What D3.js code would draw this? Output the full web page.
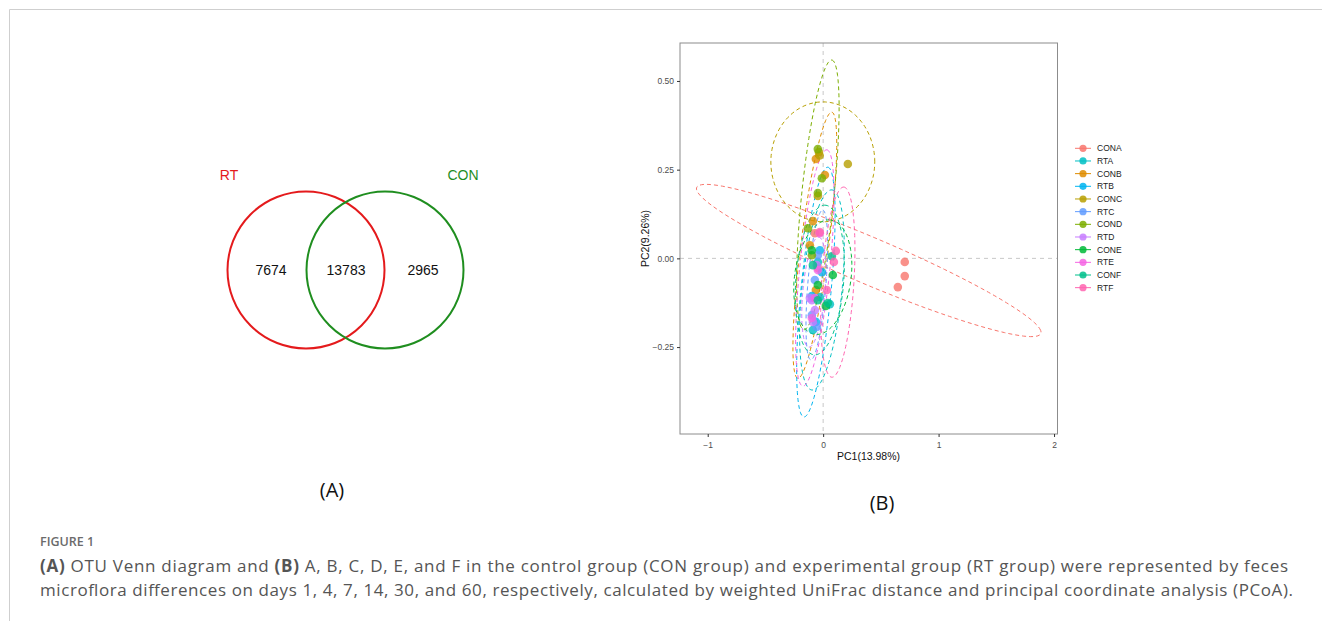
<!DOCTYPE html>
<html>
<head>
<meta charset="utf-8">
<script src="https://cdn.jsdelivr.net/npm/d3@7"></script>
<style>
  body { margin: 0; background: #fff; }
  svg { display: block; }
</style>
</head>
<body>
<svg id="fig" width="1322" height="621"></svg>
<script>
// Venn data
const vennSets = ["RT", "CON"];
const vennCounts = [7674, 13783, 2965];

// PCoA data
const groups = ["CONA", "RTA", "CONB", "RTB", "CONC", "RTC", "COND", "RTD", "CONE", "RTE", "CONF", "RTF"];
const groupColors = {
  CONA: "#F8766D", CONB: "#DE8C00", CONC: "#B79F00", COND: "#7CAE00", CONE: "#00BA38", CONF: "#00C08B",
  RTA: "#00BFC4", RTB: "#00B4F0", RTC: "#619CFF", RTD: "#C77CFF", RTE: "#F564E3", RTF: "#FF64B0"
};
const xTicks = [-1, 0, 1, 2];
const yTicks = [-0.25, 0, 0.25, 0.5];

// sample scores [PC1, PC2]
const pointsCONA = [[0.707, -0.010], [0.707, -0.050], [0.647, -0.081], [-0.072, 0.071], [-0.046, -0.027]];
const pointsCONB = [[0.015, 0.235], [-0.063, 0.280], [-0.089, 0.105], [-0.115, 0.037], [-0.063, -0.089]];
const pointsCONC = [[-0.037, 0.300], [0.214, 0.266], [-0.046, 0.176], [-0.030, 0.290]];
const pointsCOND = [[-0.046, 0.308], [-0.011, 0.226], [-0.046, 0.184], [-0.132, 0.085], [-0.098, 0.009]];
const pointsCONE = [[0.084, -0.047], [0.023, -0.134], [-0.098, 0.023], [-0.046, -0.075]];
const pointsCONF = [[0.075, 0.006], [0.041, -0.126], [-0.089, -0.019], [-0.046, -0.118]];
const pointsRTA = [[-0.089, -0.202], [-0.046, -0.010], [-0.029, -0.109], [0.058, -0.129]];
const pointsRTB = [[-0.029, 0.023], [-0.098, -0.106], [-0.063, -0.179], [-0.011, -0.039]];
const pointsRTC = [[-0.046, 0.009], [-0.072, -0.061], [-0.098, -0.160], [-0.055, -0.193]];
const pointsRTD = [[-0.055, -0.019], [-0.098, -0.118], [-0.072, -0.146], [-0.089, -0.179], [-0.115, -0.112]];
const pointsRTE = [[-0.029, 0.071], [-0.046, -0.033], [-0.072, -0.112], [-0.098, -0.168]];
const pointsRTF = [[0.110, 0.021], [0.093, -0.010], [0.032, -0.089], [-0.029, 0.074]];

// confidence ellipses: [cx, cy, ux, uy, vx, vy] (centre + two half-axis vectors)
const ellipseCONA = [0.395, -0.006, 1.489, -0.197, -0.104, 0.085];
const ellipseCONB = [-0.072, 0.037, 0.147, 0.375, 0.120, -0.005];
const ellipseCONC = [-0.003, 0.272, 0.450, 0.000, 0.000, 0.169];
const ellipseCOND = [-0.046, 0.179, 0.121, 0.380, 0.139, -0.005];
const ellipseCONE = [-0.003, -0.053, 0.069, 0.161, 0.242, -0.011];
const ellipseCONF = [-0.029, -0.061, 0.043, 0.211, 0.208, 0.000];
const ellipseRTA = [-0.011, -0.089, 0.087, 0.282, 0.173, -0.006];
const ellipseRTB = [-0.063, -0.095, 0.104, 0.352, 0.130, -0.004];
const ellipseRTC = [-0.055, -0.075, 0.052, 0.211, 0.078, -0.003];
const ellipseRTD = [-0.081, -0.095, 0.043, 0.155, 0.095, -0.003];
const ellipseRTE = [-0.072, -0.027, 0.104, 0.333, 0.130, -0.004];
const ellipseRTF = [0.127, -0.067, 0.052, 0.268, 0.139, -0.003];

const pointsByGroup = {
  CONA: pointsCONA, CONB: pointsCONB, CONC: pointsCONC, COND: pointsCOND, CONE: pointsCONE, CONF: pointsCONF,
  RTA: pointsRTA, RTB: pointsRTB, RTC: pointsRTC, RTD: pointsRTD, RTE: pointsRTE, RTF: pointsRTF
};
const ellipseByGroup = {
  CONA: ellipseCONA, CONB: ellipseCONB, CONC: ellipseCONC, COND: ellipseCOND, CONE: ellipseCONE, CONF: ellipseCONF,
  RTA: ellipseRTA, RTB: ellipseRTB, RTC: ellipseRTC, RTD: ellipseRTD, RTE: ellipseRTE, RTF: ellipseRTF
};

const svg = d3.select("#fig");
const font = "'Liberation Sans', Arial, sans-serif";

// page frame
svg.append("path")
  .attr("d", "M9.5,621 V9.5 H1322")
  .attr("fill", "none")
  .attr("stroke", "#cfcfcf")
  .attr("stroke-width", 1);

// ---------- (A) Venn ----------
const venn = svg.append("g");
const vennR = 78.5;
const vennCx = [306, 385];
const vennCy = 270;
const vennColors = ["#E41A1C", "#1F8E1F"];

venn.selectAll("circle")
  .data(vennSets)
  .join("circle")
  .attr("cx", (d, i) => vennCx[i])
  .attr("cy", vennCy)
  .attr("r", vennR)
  .attr("fill", "none")
  .attr("stroke", (d, i) => vennColors[i])
  .attr("stroke-width", 2);

venn.selectAll("text.set")
  .data(vennSets)
  .join("text")
  .attr("class", "set")
  .attr("x", (d, i) => i === 0 ? 229 : 463)
  .attr("y", 180)
  .attr("text-anchor", "middle")
  .attr("fill", (d, i) => vennColors[i])
  .style("font", `14px ${font}`)
  .text(d => d);

const countX = [271, 346, 423];
venn.selectAll("text.count")
  .data(vennCounts)
  .join("text")
  .attr("class", "count")
  .attr("x", (d, i) => countX[i])
  .attr("y", 275)
  .attr("text-anchor", "middle")
  .attr("fill", "#111")
  .style("font", `14px ${font}`)
  .text(d => d);

svg.append("text")
  .attr("x", 332).attr("y", 497)
  .attr("text-anchor", "middle")
  .style("font", "20px 'Open Sans', sans-serif")
  .attr("fill", "#111")
  .text("(A)");

// ---------- (B) PCoA ----------
const x = d3.scaleLinear().domain([-1.24, 2.03]).range([680, 1057.5]);
const y = d3.scaleLinear().domain([-0.495, 0.607]).range([434, 43]);

const plot = svg.append("g");

plot.append("rect")
  .attr("x", 680).attr("y", 43)
  .attr("width", 377.5).attr("height", 391)
  .attr("fill", "#fff");

// zero reference lines
plot.append("line")
  .attr("x1", x(0)).attr("x2", x(0))
  .attr("y1", 43).attr("y2", 434)
  .attr("stroke", "#c8c8c8").attr("stroke-dasharray", "4,4");
plot.append("line")
  .attr("x1", 680).attr("x2", 1057.5)
  .attr("y1", y(0)).attr("y2", y(0))
  .attr("stroke", "#c8c8c8").attr("stroke-dasharray", "4,4");

// ellipses
const ellipseLine = d3.line().x(d => x(d[0])).y(d => y(d[1]));
const angles = d3.range(0, 2 * Math.PI + 0.001, Math.PI / 60);
const ellipsePath = e => ellipseLine(angles.map(t => [
  e[0] + Math.cos(t) * e[2] + Math.sin(t) * e[4],
  e[1] + Math.cos(t) * e[3] + Math.sin(t) * e[5]
]));

plot.selectAll("path.ellipse")
  .data(groups)
  .join("path")
  .attr("class", "ellipse")
  .attr("d", g => ellipsePath(ellipseByGroup[g]))
  .attr("fill", "none")
  .attr("stroke", g => groupColors[g])
  .attr("stroke-width", 1)
  .attr("stroke-dasharray", "4,3");

// points
const allPoints = groups.flatMap(g => pointsByGroup[g].map(p => ({ g, p })));
plot.selectAll("circle.pt")
  .data(allPoints)
  .join("circle")
  .attr("class", "pt")
  .attr("cx", d => x(d.p[0]))
  .attr("cy", d => y(d.p[1]))
  .attr("r", 4.3)
  .attr("fill", d => groupColors[d.g])
  .attr("fill-opacity", 0.8);

// border
plot.append("rect")
  .attr("x", 680).attr("y", 43)
  .attr("width", 377.5).attr("height", 391)
  .attr("fill", "none")
  .attr("stroke", "#8c8c8c")
  .attr("stroke-width", 1);

// axes
const xAxis = svg.append("g")
  .attr("transform", "translate(0,434)")
  .call(d3.axisBottom(x).tickValues(xTicks).tickSize(3).tickSizeOuter(0).tickFormat(d => d < 0 ? "\u2212" + Math.abs(d) : d));
const yAxis = svg.append("g")
  .attr("transform", "translate(680,0)")
  .call(d3.axisLeft(y).tickValues(yTicks).tickSize(3).tickSizeOuter(0)
    .tickFormat(d => (d < 0 ? "\u2212" : "") + d3.format(".2f")(Math.abs(d))));
[xAxis, yAxis].forEach(a => {
  a.select(".domain").remove();
  a.selectAll(".tick line").attr("stroke", "#333");
  a.selectAll(".tick text").attr("fill", "#4d4d4d").style("font", `8.5px ${font}`);
});
xAxis.selectAll(".tick text").attr("dy", "0.9em");

svg.append("text")
  .attr("x", 868.5).attr("y", 460)
  .attr("text-anchor", "middle")
  .attr("fill", "#111")
  .style("font", `10.5px ${font}`)
  .text("PC1(13.98%)");
svg.append("text")
  .attr("transform", "translate(649,238.5) rotate(-90)")
  .attr("text-anchor", "middle")
  .attr("fill", "#111")
  .style("font", `10.5px ${font}`)
  .text("PC2(9.26%)");

// legend
const legend = svg.append("g").attr("transform", "translate(1075,148.3)");
const item = legend.selectAll("g")
  .data(groups)
  .join("g")
  .attr("transform", (d, i) => `translate(0,${i * 12.67})`);
item.append("line")
  .attr("x1", 0).attr("x2", 16)
  .attr("stroke", d => groupColors[d])
  .attr("stroke-width", 1);
item.append("circle")
  .attr("cx", 8).attr("r", 3.6)
  .attr("fill", d => groupColors[d])
  .attr("fill-opacity", 0.85);
item.append("text")
  .attr("x", 22).attr("dy", "0.35em")
  .attr("fill", "#222")
  .style("font", `8.5px ${font}`)
  .text(d => d);

svg.append("text")
  .attr("x", 882).attr("y", 510)
  .attr("text-anchor", "middle")
  .style("font", "20px 'Open Sans', sans-serif")
  .attr("fill", "#111")
  .text("(B)");

// ---------- caption ----------
const cap = svg.append("g").style("font-family", "'Open Sans', sans-serif");
cap.append("text")
  .attr("x", 40).attr("y", 546)
  .attr("fill", "#6b6b6b")
  .style("font-size", "12.5px")
  .style("font-weight", 600)
  .text("FIGURE 1");
const line1 = cap.append("text").attr("x", 40).attr("y", 572).attr("fill", "#555").style("font-size", "17px")
  .attr("textLength", 1248).attr("lengthAdjust", "spacing");
line1.append("tspan").style("font-weight", 700).text("(A)");
line1.append("tspan").text(" OTU Venn diagram and ");
line1.append("tspan").style("font-weight", 700).text("(B)");
line1.append("tspan").text(" A, B, C, D, E, and F in the control group (CON group) and experimental group (RT group) were represented by feces");
cap.append("text").attr("x", 40).attr("y", 596).attr("fill", "#555").style("font-size", "17px")
  .attr("textLength", 1253).attr("lengthAdjust", "spacing")
  .text("microflora differences on days 1, 4, 7, 14, 30, and 60, respectively, calculated by weighted UniFrac distance and principal coordinate analysis (PCoA).");
</script>
</body>
</html>
